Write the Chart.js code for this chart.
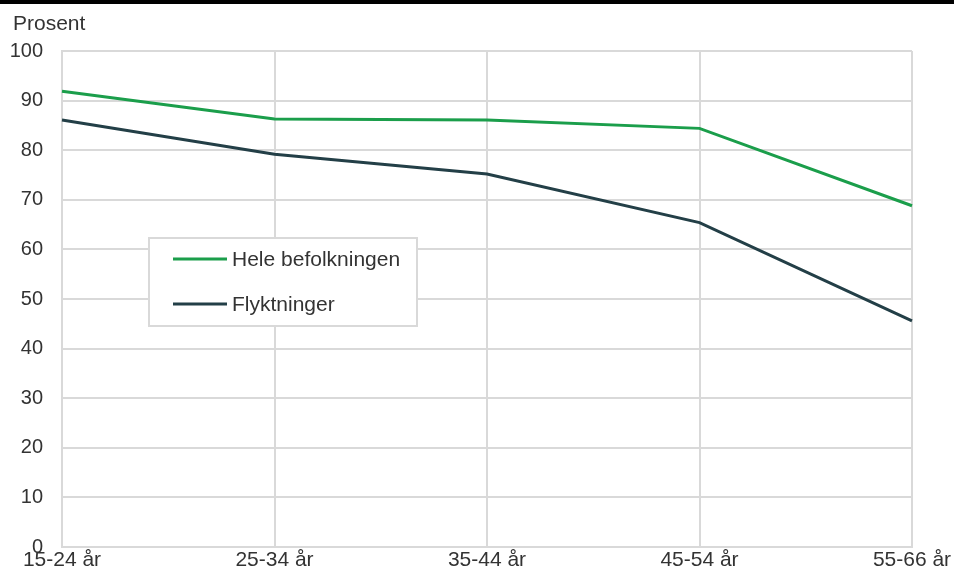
<!DOCTYPE html>
<html>
<head>
<meta charset="utf-8">
<script src="https://cdn.jsdelivr.net/npm/chart.js@4.4.1/dist/chart.umd.min.js"></script>
<style>
  html, body { margin: 0; padding: 0; background: #fff; }
  #wrap { width: 954px; height: 573px; position: relative; }
</style>
</head>
<body>
<div id="wrap"><canvas id="chart"></canvas></div>
<script>
const categories = ['15-24 år', '25-34 år', '35-44 år', '45-54 år', '55-66 år'];
const seriesNames = ['Hele befolkningen', 'Flyktninger'];
const heleBefolkningen = [91.9, 86.3, 86.1, 84.4, 68.8];
const flyktninger = [86.1, 79.2, 75.2, 65.4, 45.6];
const yTicks = [0, 10, 20, 30, 40, 50, 60, 70, 80, 90, 100];
const yTitle = 'Prosent';

const textColor = '#333333';
const gridColor = '#d9d9d9';
const family = 'Liberation Sans, Arial, sans-serif';

// top rule, unit label and the boxed legend inside the plot
const decorations = {
  id: 'decorations',
  beforeDraw(chart) {
    const c = chart.ctx;
    c.save();
    c.fillStyle = '#000';
    c.fillRect(0, 0, chart.width, 4);
    c.restore();
  },
  afterDraw(chart) {
    const c = chart.ctx;
    const area = chart.chartArea;
    c.save();
    c.font = '21px ' + family;
    c.fillStyle = textColor;
    c.textBaseline = 'middle';
    c.textAlign = 'left';
    c.fillText(yTitle, 13, 24);

    const bx = area.left + 87, by = area.top + 187, bw = 268, bh = 88;
    c.fillStyle = '#fff';
    c.fillRect(bx, by, bw, bh);
    c.strokeStyle = gridColor;
    c.lineWidth = 2;
    c.strokeRect(bx, by, bw, bh);

    chart.data.datasets.forEach((ds, i) => {
      const y = by + 21 + i * 45;
      c.strokeStyle = ds.borderColor;
      c.lineWidth = 3;
      c.beginPath();
      c.moveTo(bx + 24, y);
      c.lineTo(bx + 78, y);
      c.stroke();
      c.fillStyle = textColor;
      c.fillText(ds.label, bx + 83, y + 1);
    });
    c.restore();
  }
};

new Chart(document.getElementById('chart'), {
  type: 'line',
  data: {
    labels: categories,
    datasets: [
      {
        label: seriesNames[0],
        data: heleBefolkningen,
        borderColor: '#1b9e4b',
        borderWidth: 3,
        pointRadius: 0,
        tension: 0
      },
      {
        label: seriesNames[1],
        data: flyktninger,
        borderColor: '#233f47',
        borderWidth: 3,
        pointRadius: 0,
        tension: 0
      }
    ]
  },
  options: {
    responsive: true,
    maintainAspectRatio: false,
    animation: false,
    layout: { padding: { top: 51, right: 42, left: 0, bottom: 0 } },
    plugins: {
      legend: { display: false },
      tooltip: { enabled: false }
    },
    scales: {
      x: {
        offset: false,
        grid: { color: gridColor, lineWidth: 2, drawTicks: false },
        border: { color: gridColor, width: 2 },
        ticks: { color: textColor, font: { family: family, size: 21 }, padding: 1, maxRotation: 0 },
        afterFit(scale) { scale.height = 26; }
      },
      y: {
        min: 0,
        max: 100,
        afterBuildTicks(scale) { scale.ticks = yTicks.map(v => ({ value: v })); },
        grid: { color: gridColor, lineWidth: 2, drawTicks: true, tickLength: 17, tickColor: 'rgba(0,0,0,0)' },
        border: { color: gridColor, width: 2 },
        ticks: { color: textColor, font: { family: family, size: 20 }, padding: 2 },
        afterFit(scale) { scale.width = 62; }
      }
    }
  },
  plugins: [decorations]
});
</script>
</body>
</html>
